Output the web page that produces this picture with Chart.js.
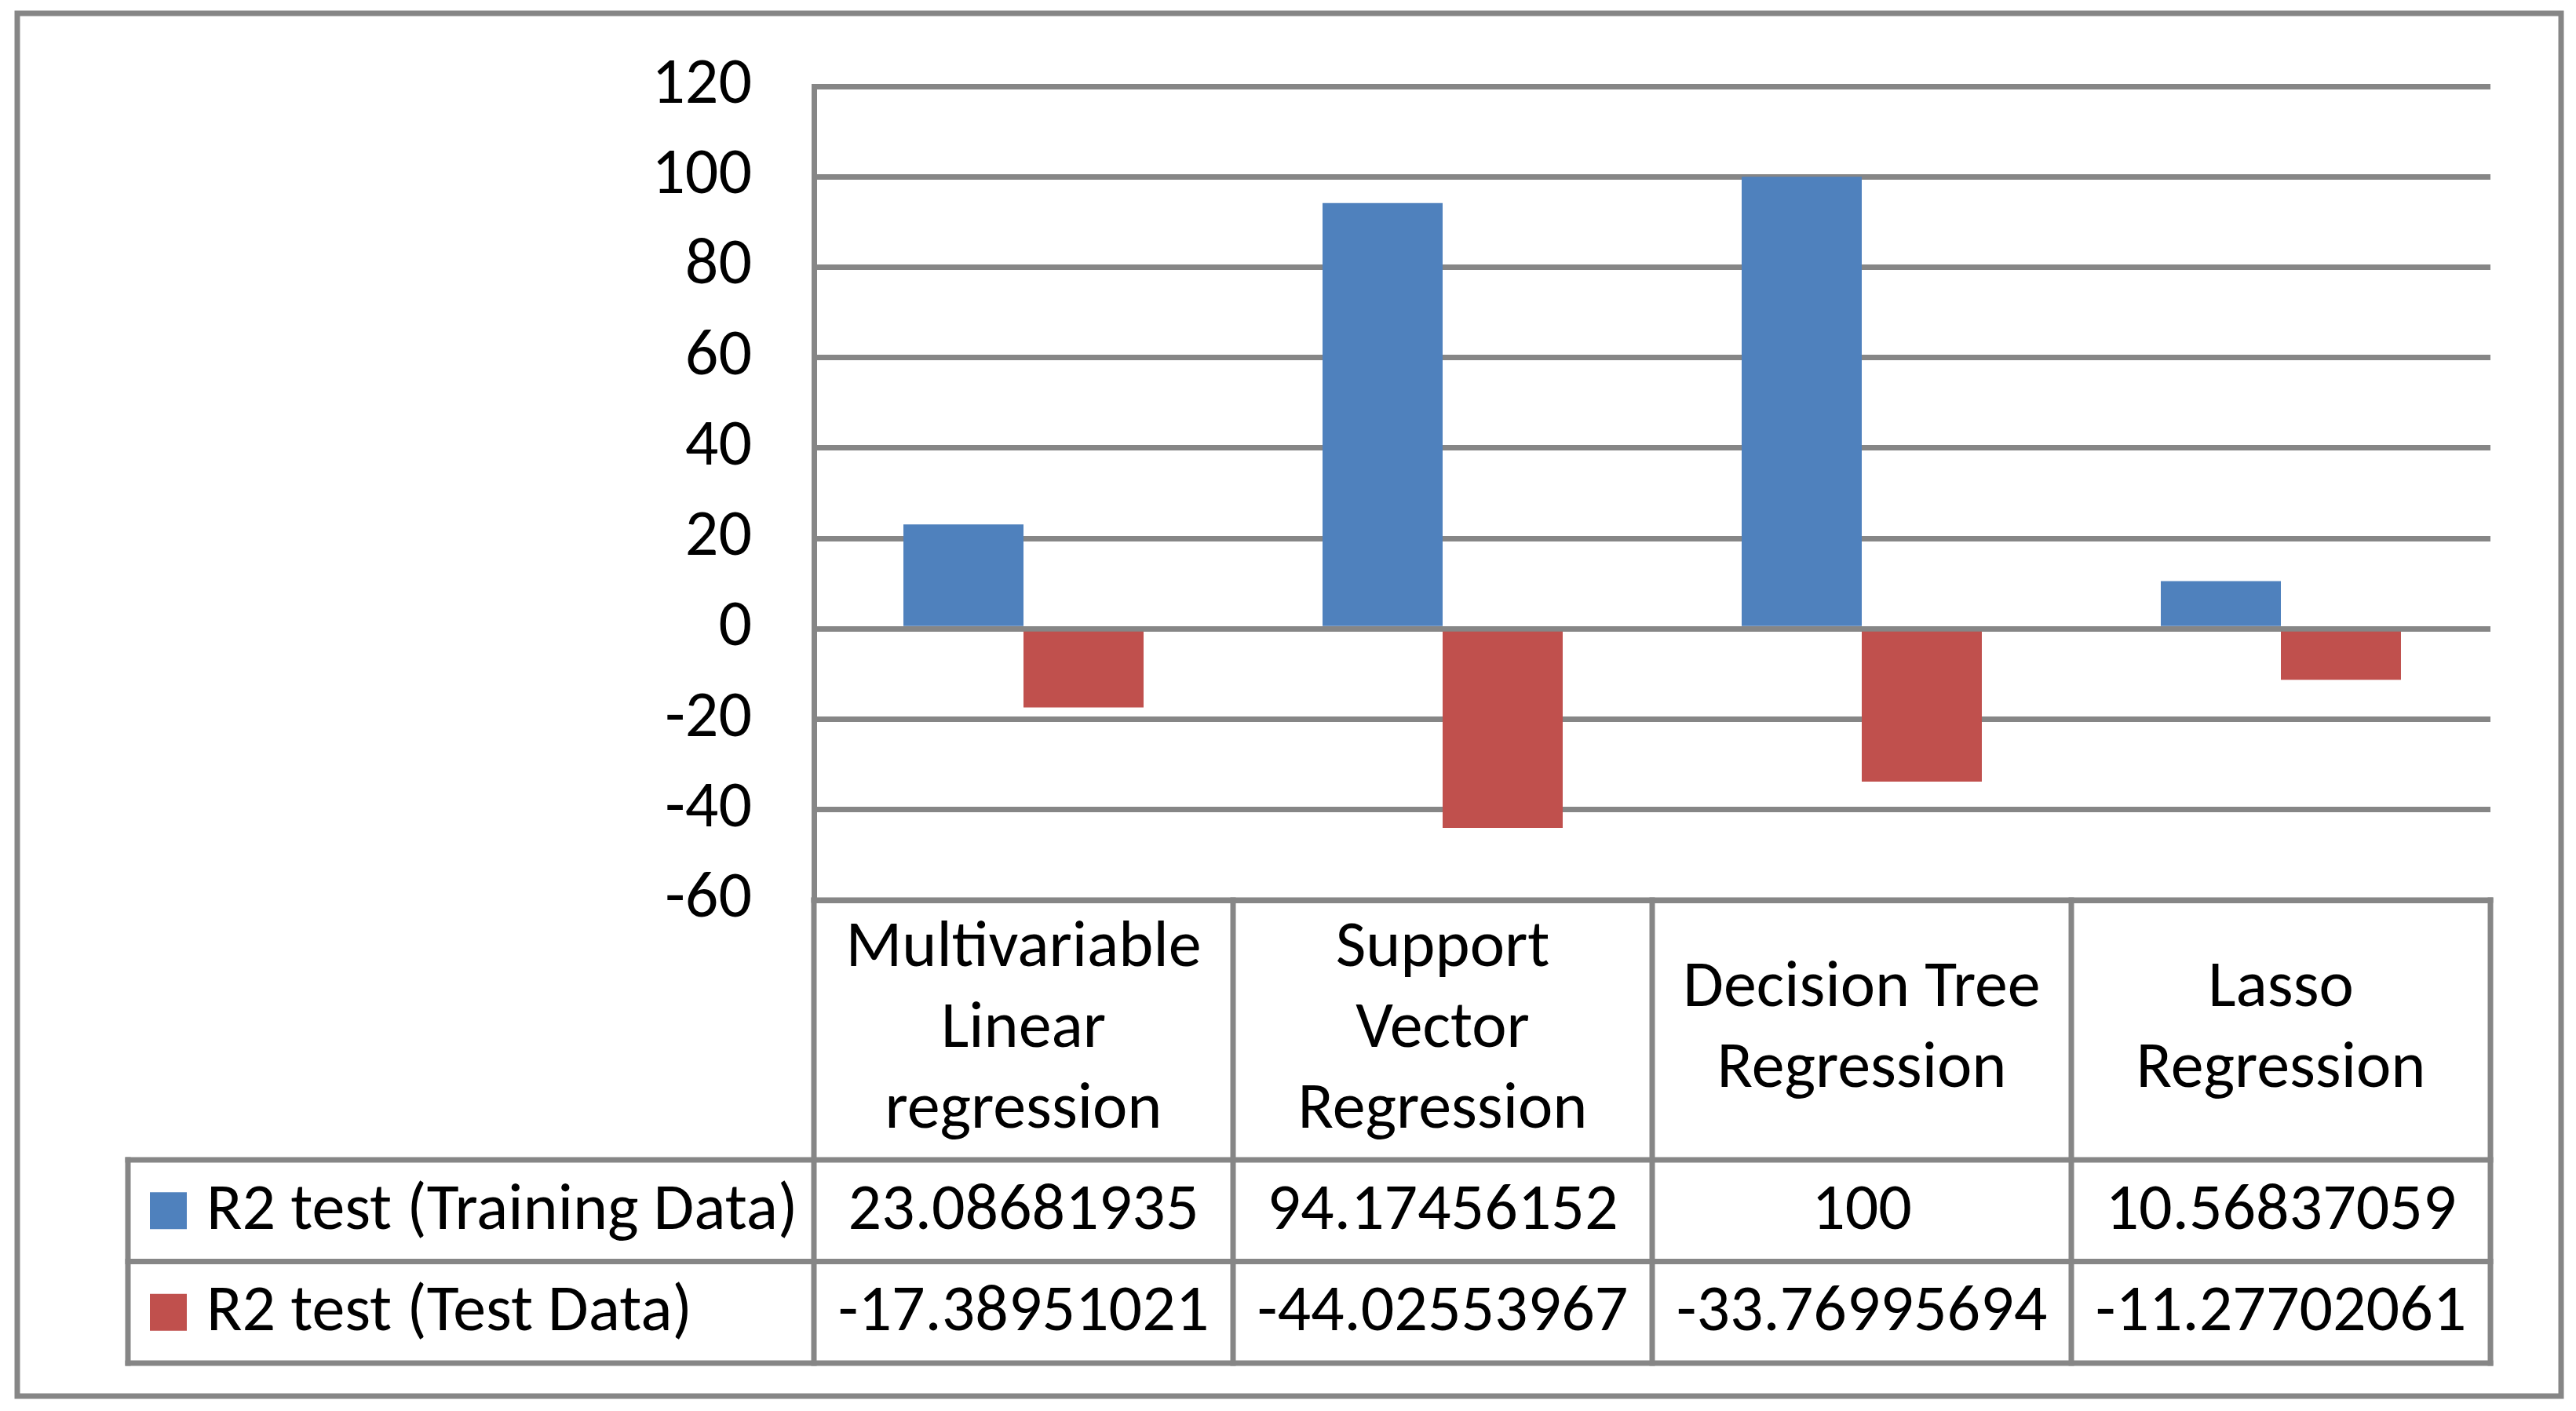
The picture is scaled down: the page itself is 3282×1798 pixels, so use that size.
<!DOCTYPE html>
<html>
<head>
<meta charset="utf-8">
<script src="https://cdn.jsdelivr.net/npm/chart.js@4"></script>
<style>
  html, body { margin: 0; padding: 0; background: #ffffff; }
  canvas { display: block; }
</style>
</head>
<body>
<canvas id="chart" width="3282" height="1798"></canvas>
<script>
/* ================= DATA ================= */
const categories = [
  ["Multivariable", "Linear", "regression"],
  ["Support", "Vector", "Regression"],
  ["Decision Tree", "Regression"],
  ["Lasso", "Regression"]
];
const seriesNames = ["R2 test (Training Data)", "R2 test (Test Data)"];
const trainingValues = [23.08681935, 94.17456152, 100, 10.56837059];
const testValues = [-17.38951021, -44.02553967, -33.76995694, -11.27702061];
const yTicks = [-60, -40, -20, 0, 20, 40, 60, 80, 100, 120];

/* ================= STYLE ================= */
const GRID = "#868686";
const BLUE = "#4F81BD";
const RED = "#C0504D";
const FONT = "Carlito, Lato, sans-serif";
const FONT_SIZE = 84;
const PLOT_TOP = 110;

/* ----- data table + outer frame ----- */
const tablePlugin = {
  id: "dataTable",
  beforeDraw(chart) {
    const ctx = chart.ctx;
    ctx.save();
    ctx.fillStyle = "#ffffff";
    ctx.fillRect(0, 0, chart.width, chart.height);
    ctx.restore();
  },
  afterDraw(chart) {
    const ctx = chart.ctx;
    const xs = chart.scales.x;
    const area = chart.chartArea;
    const n = categories.length;
    const colW = (area.right - area.left) / n;
    const edges = [];
    for (let i = 0; i <= n; i++) edges.push(area.left + i * colW);

    const headTop = area.bottom;
    const headBottom = 1478;
    const rowH = 129.5;
    const legendLeft = 163;
    const tableBottom = headBottom + rowH * 2;

    ctx.save();
    ctx.strokeStyle = GRID;
    ctx.lineWidth = 7;
    ctx.lineCap = "square";

    const line = (x1, y1, x2, y2) => {
      ctx.beginPath();
      ctx.moveTo(x1, y1);
      ctx.lineTo(x2, y2);
      ctx.stroke();
    };

    // horizontal lines
    line(area.left, headTop, area.right, headTop);
    for (let r = 0; r <= 2; r++) {
      const y = headBottom + r * rowH;
      line(legendLeft, y, area.right, y);
    }
    // vertical lines
    line(legendLeft, headBottom, legendLeft, tableBottom);
    edges.forEach(x => line(x, headTop, x, tableBottom));

    // outer frame
    ctx.lineCap = "butt";
    ctx.strokeRect(22, 17, 3263 - 22, 1779 - 17);

    // header labels
    ctx.fillStyle = "#000000";
    ctx.font = FONT_SIZE + "px " + FONT;
    ctx.textAlign = "center";
    ctx.textBaseline = "middle";
    const lineH = 103;
    const headMid = (headTop + headBottom) / 2;
    categories.forEach((lines, i) => {
      const cx = xs.getPixelForValue(i);
      const y0 = headMid - (lines.length - 1) * lineH / 2;
      lines.forEach((t, k) => ctx.fillText(t, cx, y0 + k * lineH));
    });

    // value rows
    const rows = [trainingValues, testValues];
    const colors = [BLUE, RED];
    rows.forEach((vals, r) => {
      const cy = headBottom + r * rowH + rowH / 2;
      vals.forEach((v, i) => {
        ctx.textAlign = "center";
        ctx.fillStyle = "#000000";
        ctx.fillText(String(v), xs.getPixelForValue(i), cy + 2);
      });
      // legend key
      ctx.fillStyle = colors[r];
      ctx.fillRect(191, cy - 23.5, 47, 47);
      ctx.fillStyle = "#000000";
      ctx.textAlign = "left";
      ctx.fillText(seriesNames[r], 263, cy + 2);
    });

    ctx.restore();
  }
};

/* ================= CHART ================= */
const ctx = document.getElementById("chart").getContext("2d");

new Chart(ctx, {
  type: "bar",
  data: {
    labels: categories,
    datasets: [
      {
        label: seriesNames[0],
        data: trainingValues,
        backgroundColor: BLUE,
        borderWidth: 0
      },
      {
        label: seriesNames[1],
        data: testValues,
        backgroundColor: RED,
        borderWidth: 0
      }
    ]
  },
  options: {
    responsive: false,
    devicePixelRatio: 1,
    animation: false,
    barPercentage: 1,
    categoryPercentage: 0.573,
    layout: {
      padding: { left: 0, top: PLOT_TOP, right: 109, bottom: 651 }
    },
    plugins: {
      legend: { display: false },
      tooltip: { enabled: false }
    },
    scales: {
      x: {
        display: false
      },
      y: {
        min: yTicks[0],
        max: yTicks[yTicks.length - 1],
        afterBuildTicks(axis) {
          axis.ticks = yTicks.map(v => ({ value: v }));
        },
        afterFit(axis) {
          axis.width = 1037;
          axis.paddingTop = 0;
          axis.paddingBottom = 0;
        },
        grid: {
          color: GRID,
          lineWidth: 7,
          drawTicks: false
        },
        border: {
          display: true,
          color: GRID,
          width: 7
        },
        ticks: {
          padding: 79,
          color: "#000000",
          font: { family: FONT, size: FONT_SIZE }
        }
      }
    }
  },
  plugins: [tablePlugin]
});
</script>
</body>
</html>
